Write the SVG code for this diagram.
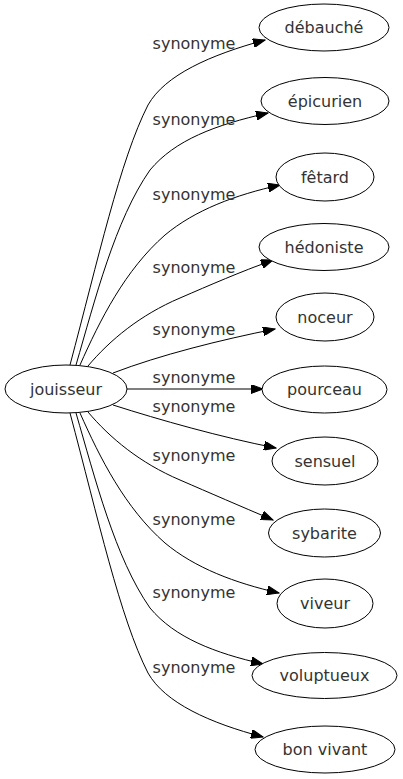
<svg xmlns="http://www.w3.org/2000/svg" width="403" height="779" viewBox="0 0 403 779">
<style>
.node ellipse{fill:#fff;stroke:#000;stroke-width:1}
text{font-family:"DejaVu Sans",sans-serif;font-size:16px;fill:#333;text-anchor:middle}
.edges path{fill:none;stroke:#000;stroke-width:1;marker-end:url(#arr)}
</style>
<defs>
<marker id="arr" markerUnits="userSpaceOnUse" markerWidth="13" markerHeight="9" refX="12" refY="4.5" orient="auto">
<path d="M0,0 L12,4.5 L0,9 z" fill="#000" stroke="#000" stroke-width="1"/>
</marker>
</defs>
<rect width="403" height="779" fill="#fff"/>
<g class="edges" id="edges">
<path d="M70,365 C98,260 120,160 148,105 C165,75 210,55 265,40"/>
<path d="M76,365 C95,300 115,220 150,170 C175,140 215,125 268,113"/>
<path d="M80,365 C100,320 125,270 165,235 C195,210 235,195 280,185"/>
<path d="M88,366 C110,340 140,315 180,298 C210,285 240,272 273,260"/>
<path d="M113,373 C160,355 220,340 275,329"/>
<path d="M127,389 L263,389"/>
<path d="M113,405 C160,420 220,437 276,448"/>
<path d="M88,412 C110,438 140,463 180,480 C210,493 240,506 273,520"/>
<path d="M80,413 C100,458 125,508 165,543 C195,568 235,583 279,593"/>
<path d="M76,413 C95,478 115,558 150,608 C175,638 215,653 263,664"/>
<path d="M70,413 C98,518 120,618 148,673 C165,703 210,723 263,737"/>
<text x="194" y="49">synonyme</text>
<text x="194" y="125">synonyme</text>
<text x="194" y="200">synonyme</text>
<text x="194" y="273">synonyme</text>
<text x="194" y="335">synonyme</text>
<text x="194" y="383">synonyme</text>
<text x="194" y="412">synonyme</text>
<text x="194" y="461">synonyme</text>
<text x="194" y="525">synonyme</text>
<text x="194" y="598">synonyme</text>
<text x="194" y="673">synonyme</text>
</g>
<g class="node" id="jouisseur"><ellipse cx="66" cy="389" rx="61" ry="24"/><text x="66" y="394.5">jouisseur</text></g>
<g class="node" id="debauche"><ellipse cx="324" cy="27.5" rx="65" ry="23.5"/><text x="324" y="33">débauché</text></g>
<g class="node" id="epicurien"><ellipse cx="325" cy="101" rx="64" ry="23.5"/><text x="325" y="106.5">épicurien</text></g>
<g class="node" id="fetard"><ellipse cx="325" cy="177" rx="49" ry="24"/><text x="325" y="182.5">fêtard</text></g>
<g class="node" id="hedoniste"><ellipse cx="324" cy="247" rx="65" ry="23.5"/><text x="324" y="252.5">hédoniste</text></g>
<g class="node" id="noceur"><ellipse cx="325" cy="317" rx="49" ry="24"/><text x="325" y="322.5">noceur</text></g>
<g class="node" id="pourceau"><ellipse cx="324.5" cy="389.5" rx="62.5" ry="23.5"/><text x="324.5" y="395">pourceau</text></g>
<g class="node" id="sensuel"><ellipse cx="325" cy="461" rx="53" ry="24"/><text x="325" y="466.5">sensuel</text></g>
<g class="node" id="sybarite"><ellipse cx="324.5" cy="533" rx="56" ry="24"/><text x="324.5" y="538.5">sybarite</text></g>
<g class="node" id="viveur"><ellipse cx="325" cy="603.5" rx="48" ry="24.5"/><text x="325" y="609">viveur</text></g>
<g class="node" id="voluptueux"><ellipse cx="324.5" cy="675.5" rx="72.5" ry="23"/><text x="324.5" y="681">voluptueux</text></g>
<g class="node" id="bon-vivant"><ellipse cx="325" cy="749.5" rx="70" ry="23.5"/><text x="325" y="755">bon vivant</text></g>
</svg>
